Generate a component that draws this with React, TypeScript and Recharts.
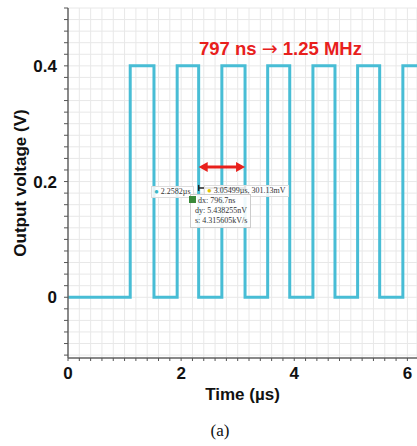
import { LineChart, Line, XAxis, YAxis, CartesianGrid, ReferenceLine } from "recharts";

// edge times (µs) of the square wave and the level held after each
const edgeTimes = [0, 1.1, 1.52, 1.93, 2.31, 2.72, 3.13, 3.53, 3.92, 4.33, 4.72, 5.12, 5.51, 5.92, 6.17];
const levels = [0, 0.4, 0, 0.4, 0, 0.4, 0, 0.4, 0, 0.4, 0, 0.4, 0, 0.4, 0.4];

const xMajor = [0, 2, 4, 6];
const yMajor = [0, 0.2, 0.4];

// minor ticks / grid
const xMinor = Array.from({ length: 31 }, (_, i) => Math.round(i * 2) / 10);
const yMinor = Array.from({ length: 31 }, (_, i) => Math.round((-0.1 + i * 0.02) * 100) / 100);

// measured period marker (µs, V)
const periodStart = 2.31;
const periodEnd = 3.13;
const arrowLevel = 0.225;
const cursorLevel = 0.189;

const data = edgeTimes.map((t, i) => ({ t, v: levels[i] }));

const FONT = "'Liberation Sans', Arial, sans-serif";
const WAVE = "#48bdd5";
const RED = "#e8201c";

function ArrowShape(props: any) {
  const { x1, y1, x2, y2 } = props;
  const h = 7;
  return (
    <g>
      <line x1={x1 + h} y1={y1} x2={x2 - h} y2={y2} stroke={RED} strokeWidth={3} />
      <polygon points={`${x1},${y1} ${x1 + h + 2},${y1 - 5} ${x1 + h + 2},${y1 + 5}`} fill={RED} />
      <polygon points={`${x2},${y2} ${x2 - h - 2},${y2 - 5} ${x2 - h - 2},${y2 + 5}`} fill={RED} />
    </g>
  );
}

function CursorShape(props: any) {
  const { x1, y1, x2, y2 } = props;
  return (
    <g>
      <line x1={x1} y1={y1} x2={x2} y2={y2} stroke="#222" strokeWidth={1.5} />
      <line x1={x1} y1={y1 - 3} x2={x1} y2={y1 + 3} stroke="#222" strokeWidth={1.5} />
      <line x1={x2} y1={y2 - 3} x2={x2} y2={y2 + 3} stroke="#222" strokeWidth={1.5} />
    </g>
  );
}

const tinyText: React.CSSProperties = {
  position: "absolute",
  fontFamily: "'Liberation Serif', 'Times New Roman', serif",
  fontSize: 8,
  color: "#333",
  lineHeight: "10px",
  whiteSpace: "nowrap",
};

export default function App() {
  return (
    <div
      style={{
        position: "absolute",
        left: 0,
        top: 0,
        width: 417,
        height: 446,
        overflow: "hidden",
        background: "#fff",
      }}
    >
      <LineChart width={417} height={446} data={data} margin={{ top: 8, right: 0, bottom: 0, left: 0 }}>
        <CartesianGrid stroke="#e8e8e8" strokeWidth={1} />
        <XAxis
          dataKey="t"
          type="number"
          domain={[0, 6.17]}
          ticks={xMinor}
          interval={0}
          height={88}
          tickSize={3}
          tickMargin={6}
          tickFormatter={(v: number) => (xMajor.includes(v) ? String(v) : "")}
          tick={{ fill: "#111", fontSize: 17, fontWeight: 700, fontFamily: FONT }}
          axisLine={{ stroke: "#666", strokeWidth: 1.5 }}
          tickLine={{ stroke: "#555" }}
          label={{
            value: "Time (µs)",
            position: "insideTop",
            offset: 30,
            fill: "#111",
            fontSize: 17,
            fontWeight: 700,
            fontFamily: FONT,
          }}
        />
        <YAxis
          type="number"
          domain={[-0.105, 0.5]}
          ticks={yMinor}
          interval={0}
          width={68}
          tickSize={4}
          tickMargin={7}
          tickFormatter={(v: number) => (yMajor.includes(v) ? String(v) : "")}
          tick={{ fill: "#111", fontSize: 17, fontWeight: 700, fontFamily: FONT }}
          axisLine={{ stroke: "#666", strokeWidth: 1.5 }}
          tickLine={{ stroke: "#555" }}
          label={{
            value: "Output voltage (V)",
            angle: -90,
            position: "insideLeft",
            offset: 20,
            fill: "#111",
            fontSize: 17,
            fontWeight: 700,
            fontFamily: FONT,
            style: { textAnchor: "middle" },
          }}
        />
        <Line
          type="stepAfter"
          dataKey="v"
          stroke={WAVE}
          strokeWidth={3}
          dot={false}
          isAnimationActive={false}
        />
        <ReferenceLine
          segment={[
            { x: periodStart, y: arrowLevel },
            { x: periodEnd, y: arrowLevel },
          ]}
          shape={ArrowShape}
        />
        <ReferenceLine
          segment={[
            { x: periodStart, y: cursorLevel },
            { x: periodEnd, y: cursorLevel },
          ]}
          shape={CursorShape}
        />
      </LineChart>

      <div
        style={{
          position: "absolute",
          left: 199,
          top: 37,
          color: RED,
          fontFamily: FONT,
          fontWeight: 700,
          fontSize: 18.5,
          lineHeight: "22px",
          whiteSpace: "nowrap",
        }}
      >
        797 ns <span style={{ fontFamily: "'DejaVu Sans', sans-serif", fontWeight: 400, fontSize: 19 }}>→</span> 1.25 MHz
      </div>

      <div style={{ ...tinyText, left: 151, top: 186, background: "rgba(255,255,255,0.85)", border: "1px solid #ddd", padding: "0 2px" }}>
        <span style={{ color: "#3bb8c8" }}>●</span> 2.2582µs
      </div>
      <div style={{ ...tinyText, left: 204, top: 185, background: "rgba(255,255,255,0.85)", border: "1px solid #ddd", padding: "0 2px" }}>
        <span style={{ color: "#e2c400" }}>●</span> 3.05499µs, 301.13mV
      </div>
      <div
        style={{
          ...tinyText,
          left: 190,
          top: 194,
          background: "rgba(255,255,255,0.9)",
          border: "1px solid #ccc",
          padding: "1px 3px 1px 4px",
        }}
      >
        <span style={{ display: "inline-block", width: 7, height: 7, background: "#3a8a3a", marginLeft: -6, marginRight: 2 }} />
        dx: 796.7ns
        <br />
        dy: 5.438255nV
        <br />
        s: 4.315605kV/s
      </div>

      <div
        style={{
          position: "absolute",
          left: 0,
          width: 440,
          top: 421,
          textAlign: "center",
          fontFamily: "'Liberation Serif', 'Times New Roman', serif",
          fontSize: 17,
          color: "#111",
        }}
      >
        (a)
      </div>
    </div>
  );
}
